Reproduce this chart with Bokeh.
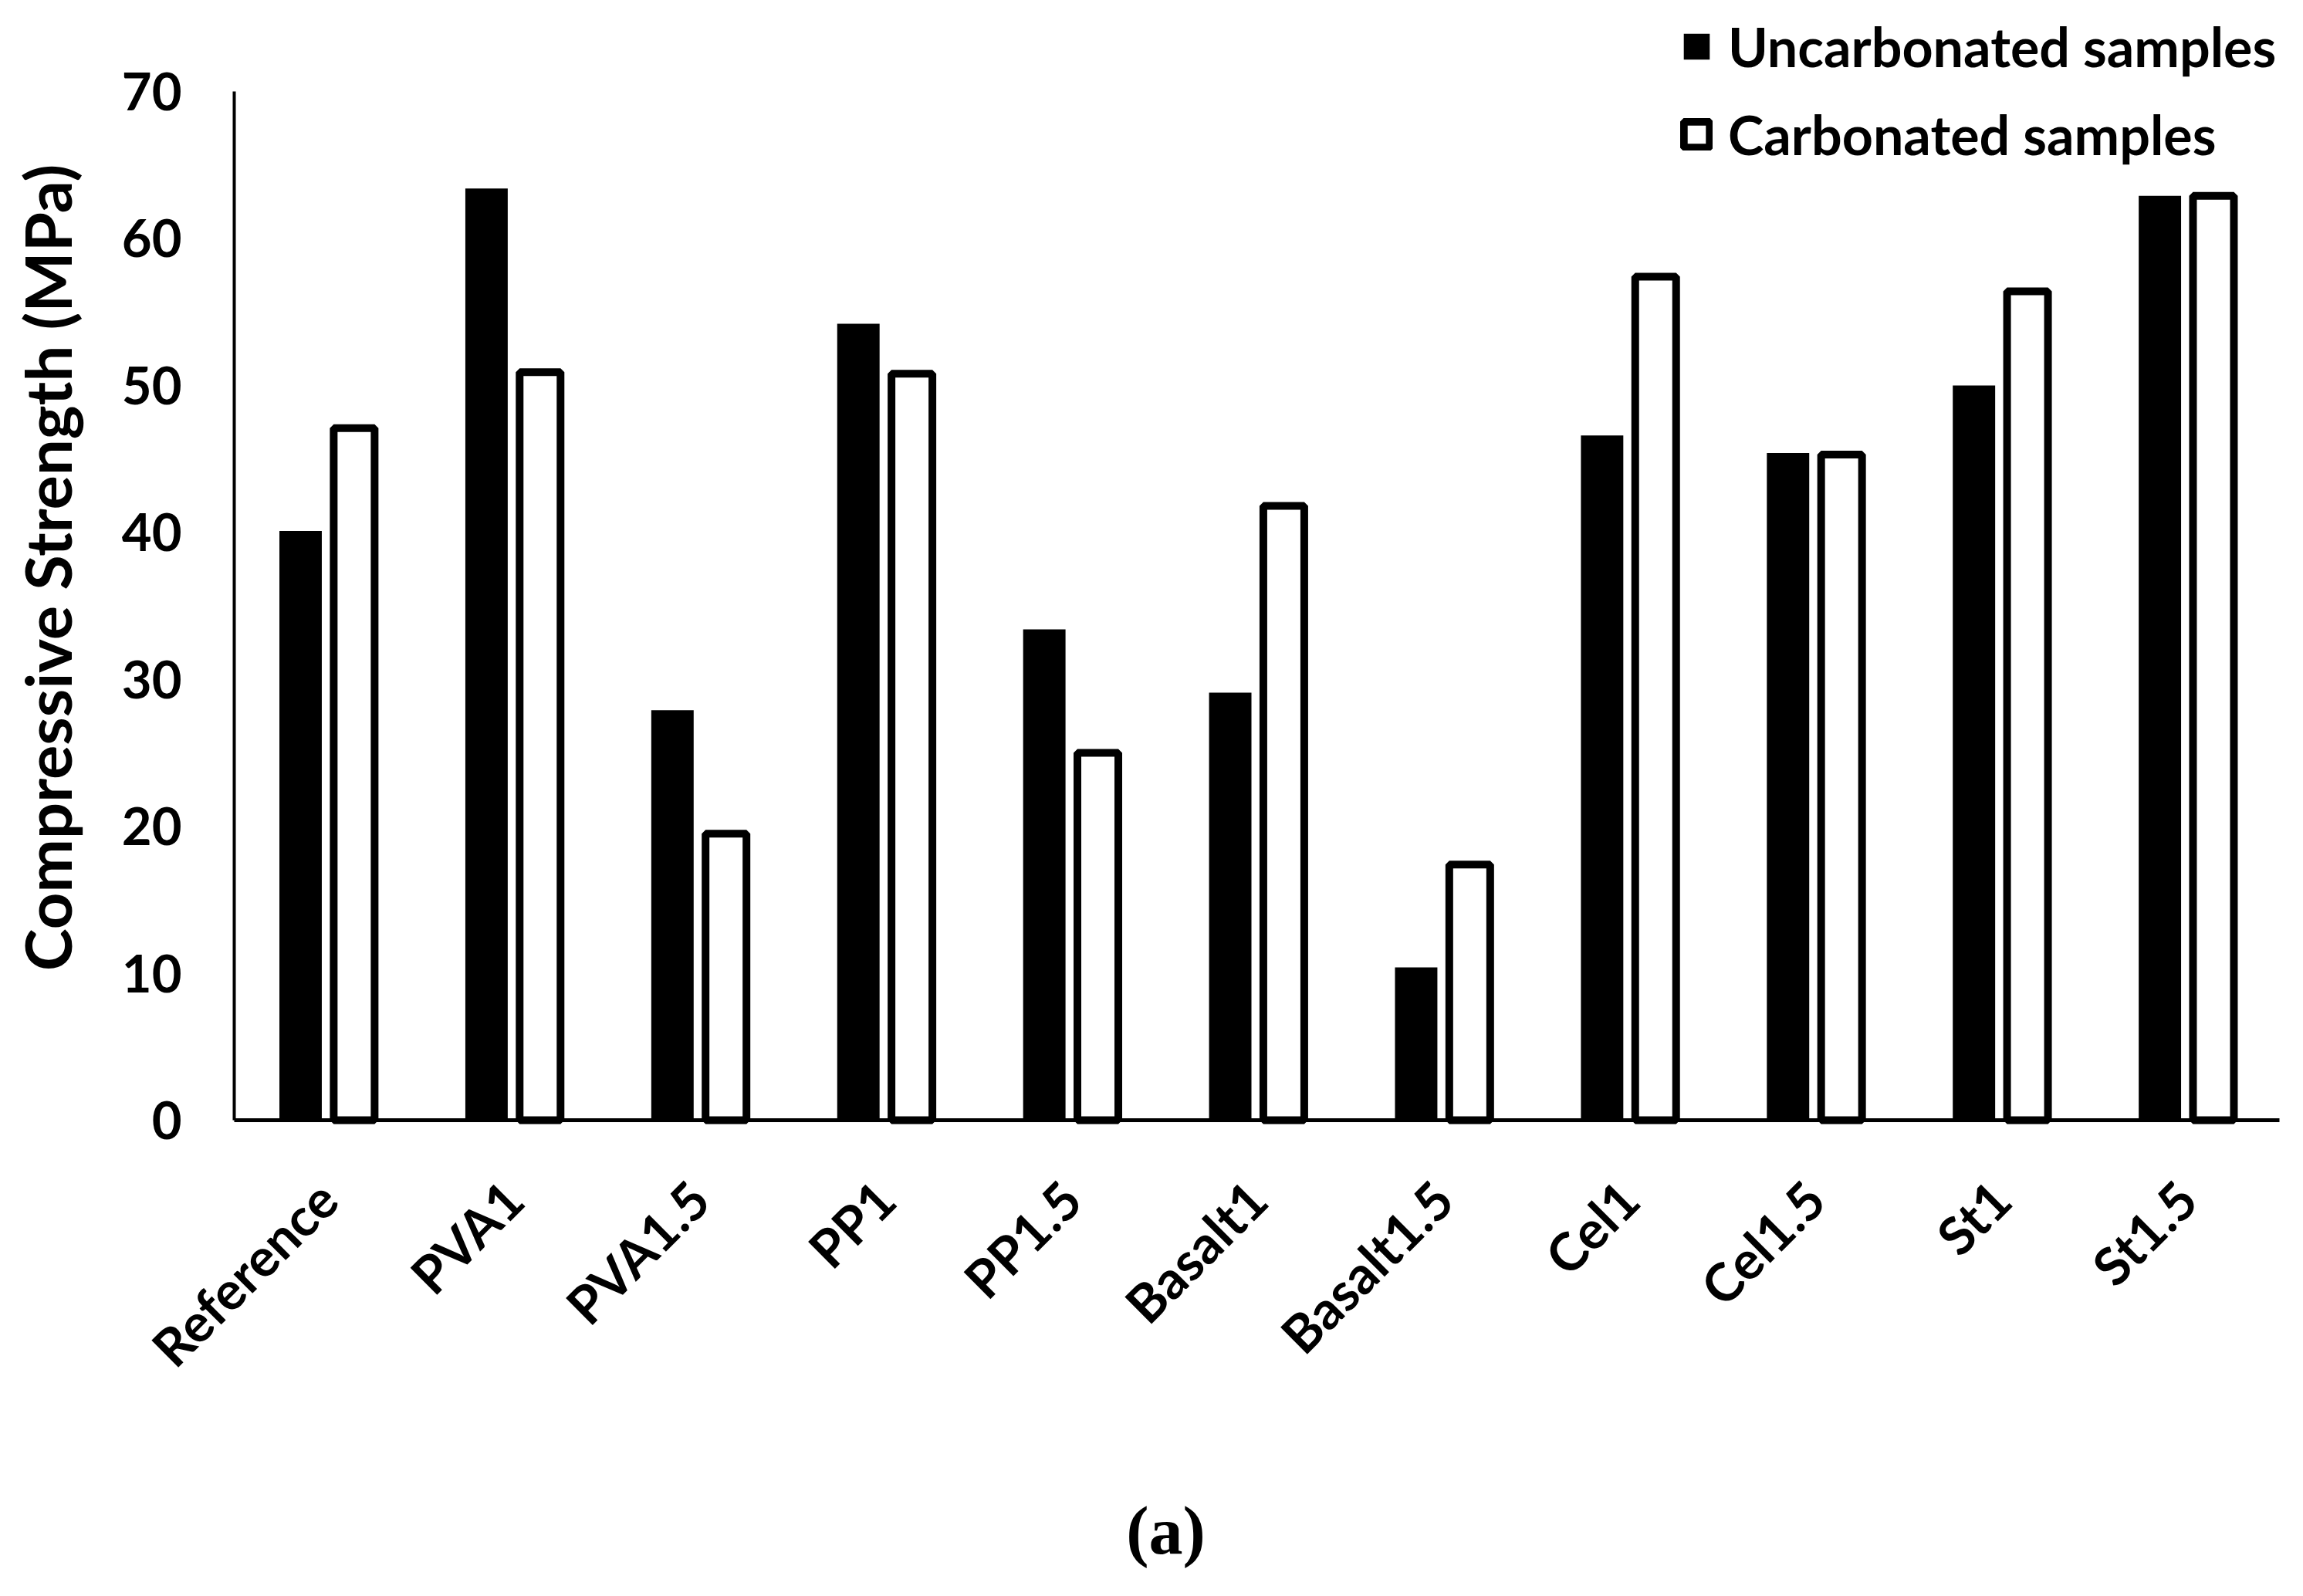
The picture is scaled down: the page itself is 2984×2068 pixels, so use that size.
import math
from bokeh.plotting import figure
from bokeh.models import (ColumnDataSource, Range1d, FixedTicker,
                          Legend, LegendItem, Label)
from bokeh.embed import file_html
from bokeh.resources import INLINE

# ---------------- data ----------------
categories = ["Reference", "PVA1", "PVA1.5", "PP1", "PP1.5", "Basalt1",
              "Basalt1.5", "Cel1", "Cel1.5", "St1", "St1.5"]
uncarbonated = [40.1, 63.4, 27.9, 54.2, 33.4, 29.1, 10.4, 46.6, 45.4, 50.0, 62.9]
carbonated = [47.1, 50.9, 19.5, 50.8, 25.0, 41.8, 17.4, 57.4, 45.3, 56.4, 62.9]
y_ticks = [0, 10, 20, 30, 40, 50, 60, 70]
series_labels = ["Uncarbonated samples", "Carbonated samples"]
y_title = "Compressive Strength (MPa)"
caption = "(a)"

FONT = "Lato"
W, H = 2968, 2052

# category i is centred on x = i; the plotting frame covers the whole canvas
idx = list(range(len(categories)))
n = len(categories)
p = figure(width=W, height=H,
           x_range=Range1d(-1.7577, n - 0.5 + 0.0623),
           y_range=Range1d(-31.56, 76.2),
           output_backend="svg", toolbar_location=None,
           min_border_left=0, min_border_right=0,
           min_border_top=0, min_border_bottom=0)

src = ColumnDataSource(dict(i=idx, unc=uncarbonated, carb=carbonated,
                            xu=[k - 0.143 for k in idx],
                            xc=[k + 0.145 for k in idx]))

r1 = p.vbar(x="xu", top="unc", width=0.228, source=src,
            fill_color="black", line_color=None)
r2 = p.vbar(x="xc", top="carb", width=0.22, source=src,
            fill_color="white", line_color="black", line_width=10)

p.xgrid.visible = False
p.ygrid.visible = False
p.outline_line_color = None
p.background_fill_color = "white"
p.border_fill_color = "white"

# y axis, drawn at the left edge of the first category
ya = p.yaxis[0]
ya.fixed_location = -0.5
ya.ticker = FixedTicker(ticks=y_ticks)
ya.bounds = (0, 70)
ya.axis_line_width = 4
ya.axis_line_color = "black"
ya.major_tick_line_color = None
ya.minor_tick_line_color = None
ya.major_tick_out = 0
ya.major_tick_in = 0
ya.major_label_standoff = 68
ya.major_label_text_font = FONT
ya.major_label_text_font_style = "bold"
ya.major_label_text_font_size = "67px"
ya.major_label_text_color = "black"

# x axis, drawn at y = 0
xa = p.xaxis[0]
xa.fixed_location = 0
xa.bounds = (-0.5, n - 0.5)
xa.ticker = FixedTicker(ticks=idx)
xa.major_label_overrides = {k: c for k, c in zip(idx, categories)}
xa.axis_line_width = 5
xa.axis_line_color = "black"
xa.major_tick_line_color = None
xa.minor_tick_line_color = None
xa.major_tick_out = 0
xa.major_tick_in = 0
xa.major_label_orientation = math.pi / 4
xa.major_label_standoff = 90
xa.major_label_text_font = FONT
xa.major_label_text_font_style = "bold"
xa.major_label_text_font_size = "68px"
xa.major_label_text_color = "black"

# y axis title
p.add_layout(Label(x=60, y=H - 735, x_units="screen", y_units="screen",
                   text=y_title, angle=math.pi / 2,
                   text_font=FONT, text_font_style="bold",
                   text_font_size="83px", text_align="center",
                   text_baseline="alphabetic", text_color="black"))

legend = Legend(items=[LegendItem(label=series_labels[0], renderers=[r1]),
                       LegendItem(label=series_labels[1], renderers=[r2])],
                location=(2177, H - 216), orientation="vertical",
                glyph_width=42, glyph_height=42, label_height=42,
                spacing=30, padding=0, margin=0, label_standoff=20,
                border_line_color=None, background_fill_alpha=0,
                label_text_font=FONT, label_text_font_style="bold",
                label_text_font_size="70px", label_text_color="black")
p.add_layout(legend, "center")

# panel caption
p.add_layout(Label(x=1510, y=H - 1983, x_units="screen", y_units="screen",
                   text=caption, text_font="Liberation Serif",
                   text_font_style="bold", text_font_size="88px",
                   text_align="center", text_baseline="alphabetic",
                   text_color="black"))

open("out.html", "w").write(file_html(p, INLINE))
